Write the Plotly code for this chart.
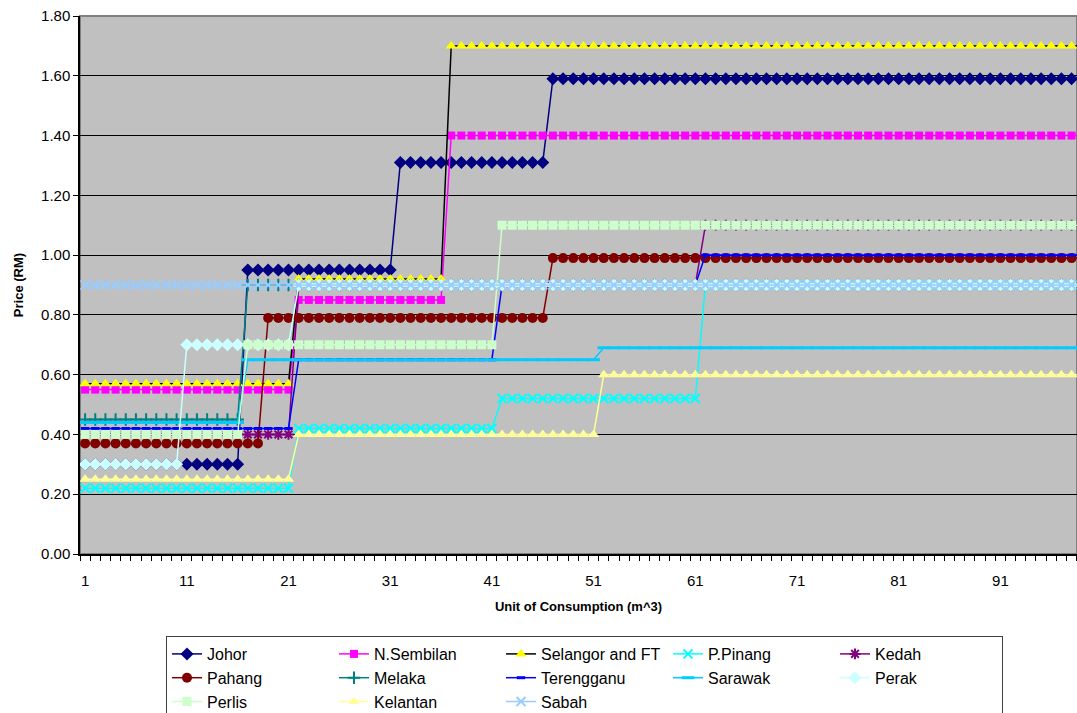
import plotly.graph_objects as go

# Tiered tariffs: price per tier and number of units (m^3) in that tier
units_total = 100
states = ["Johor", "N.Sembilan", "Selangor and FT", "P.Pinang", "Kedah",
          "Pahang", "Melaka", "Terengganu", "Sarawak", "Perak",
          "Perlis", "Kelantan", "Sabah"]

johor_rates = [0.30, 0.95, 1.31, 1.59]
johor_units = [16, 15, 15, 54]
nsembilan_rates = [0.55, 0.85, 1.40]
nsembilan_units = [21, 15, 64]
selangor_rates = [0.57, 0.92, 1.70]
selangor_units = [21, 15, 64]
ppinang_rates = [0.22, 0.42, 0.52, 0.90]
ppinang_units = [21, 20, 20, 39]
kedah_rates = [0.40, 0.90, 1.10]
kedah_units = [21, 40, 39]
pahang_rates = [0.37, 0.79, 0.99]
pahang_units = [18, 28, 54]
melaka_rates = [0.45, 0.90]
melaka_units = [16, 84]
terengganu_rates = [0.42, 0.65, 0.90, 1.00]
terengganu_units = [21, 20, 20, 39]
sarawak_rates = [0.44, 0.65, 0.69]
sarawak_units = [16, 35, 49]
perak_rates = [0.30, 0.70, 0.90]
perak_units = [10, 11, 79]
perlis_rates = [0.40, 0.70, 1.10]
perlis_units = [16, 25, 59]
kelantan_rates = [0.25, 0.40, 0.60]
kelantan_units = [21, 30, 49]
sabah_rates = [0.90]
sabah_units = [100]

x_tick_labels = [1, 11, 21, 31, 41, 51, 61, 71, 81, 91]
y_tick_values = [0.0, 0.2, 0.4, 0.6, 0.8, 1.0, 1.2, 1.4, 1.6, 1.8]

tiers = [
    (johor_rates, johor_units), (nsembilan_rates, nsembilan_units),
    (selangor_rates, selangor_units), (ppinang_rates, ppinang_units),
    (kedah_rates, kedah_units), (pahang_rates, pahang_units),
    (melaka_rates, melaka_units), (terengganu_rates, terengganu_units),
    (sarawak_rates, sarawak_units), (perak_rates, perak_units),
    (perlis_rates, perlis_units), (kelantan_rates, kelantan_units),
    (sabah_rates, sabah_units),
]

styles = [
    dict(line="#000080", symbol="diamond", fill="#000080", size=10, mlw=0),
    dict(line="#FF00FF", symbol="square", fill="#FF00FF", size=8, mlw=0),
    dict(line="#000000", symbol="triangle-up", fill="#FFFF00", size=10, mlw=0),
    dict(line="#00FFFF", symbol="x-thin", fill="#00FFFF", size=9, mlw=2),
    dict(line="#800080", symbol="asterisk", fill="#800080", size=9, mlw=2),
    dict(line="#800000", symbol="circle", fill="#800000", size=10, mlw=0),
    dict(line="#008080", symbol="cross-thin", fill="#008080", size=9, mlw=2),
    dict(line="#0000FF", symbol="line-ew", fill="#0000FF", size=6, mlw=3),
    dict(line="#00CCFF", symbol="line-ew", fill="#00CCFF", size=9, mlw=3),
    dict(line="#CCFFFF", symbol="diamond", fill="#CCFFFF", size=10, mlw=0),
    dict(line="#CCFFCC", symbol="square", fill="#CCFFCC", size=9, mlw=0),
    dict(line="#FFFF99", symbol="triangle-up", fill="#FFFF99", size=10, mlw=0),
    dict(line="#99CCFF", symbol="x-thin", fill="#99CCFF", size=9, mlw=2),
]

x = list(range(1, units_total + 1))
fig = go.Figure()
for name, (rates, counts), st in zip(states, tiers, styles):
    y = []
    for r, c in zip(rates, counts):
        y.extend([r] * c)
    line_only = st["symbol"] in ("x-thin", "asterisk", "cross-thin", "line-ew")
    fig.add_trace(go.Scatter(
        x=x, y=y, name=name, mode="lines+markers",
        line=dict(color=st["line"], width=1.5),
        marker=dict(symbol=st["symbol"], size=st["size"], color=st["fill"],
                    line=dict(color=st["fill"], width=st["mlw"] if line_only else 0)),
    ))

L, T, B, R = 80, 16, 554, 0
W, H = 1077, 713
plot_w = W - L - R
plot_h = B - T

font = "Arial, Liberation Sans, sans-serif"
fig.update_layout(
    width=W, height=H,
    margin=dict(l=L, r=R, t=T, b=H - B, autoexpand=False),
    paper_bgcolor="white", plot_bgcolor="#C0C0C0",
    font=dict(family=font, size=15, color="black"),
    showlegend=True,
    legend=dict(
        orientation="h", x=(166 - L) / plot_w, xanchor="left",
        y=(B - 636) / plot_h, yanchor="top",
        bordercolor="#404040", borderwidth=1, bgcolor="white",
        font=dict(family=font, size=16, color="black"),
        entrywidth=122, entrywidthmode="pixels",
        tracegroupgap=0, itemwidth=30,
    ),
    xaxis=dict(
        automargin=False,
        range=[0.5, 0.5 + plot_w / 10.17],
        tickmode="array", tickvals=x_tick_labels, ticktext=[str(v) for v in x_tick_labels],
        ticks="", showgrid=False, zeroline=False,
        showline=True, linecolor="black", linewidth=1.5,
        tickfont=dict(size=15), ticklabelstandoff=12,
        minor=dict(tickmode="linear", tick0=0.5, dtick=1, ticks="outside",
                   ticklen=5, tickcolor="black", tickwidth=1, showgrid=False),
        title=dict(text="<b>Unit of Consumption (m^3)</b>", font=dict(size=13), standoff=14),
    ),
    yaxis=dict(
        automargin=False,
        range=[0, 1.8], tickmode="array", tickvals=y_tick_values,
        ticktext=[f"{v:.2f}" for v in y_tick_values], ticklabeloverflow="allow",
        ticks="outside", ticklen=5, tickcolor="black",
        showgrid=True, gridcolor="black", gridwidth=1, zeroline=False,
        showline=True, linecolor="black", linewidth=1.5,
        tickfont=dict(size=15),
        title=dict(text="<b>Price (RM)</b>", font=dict(size=13), standoff=14),
    ),
    shapes=[dict(type="rect", xref="paper", yref="paper", x0=0, x1=1, y0=0, y1=1,
                 line=dict(color="#808080", width=2), layer="below")],
)

fig.write_html(
    "out.html",
    config={"displayModeBar": False},
    post_script="document.body.style.margin='0';document.body.style.overflow='hidden';",
)
